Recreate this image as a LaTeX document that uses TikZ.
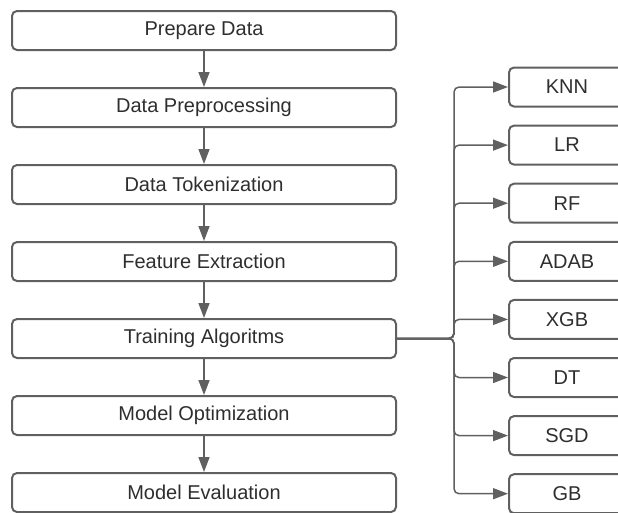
\documentclass[tikz,border=0pt]{standalone}
\usepackage{fontspec}
\setmainfont{Liberation Sans}
\usetikzlibrary{arrows.meta}

\definecolor{linegray}{HTML}{606060}
\definecolor{textgray}{HTML}{2E2E2E}

\begin{document}
\begin{tikzpicture}[->,>={Triangle[length=15pt,width=11pt]},x=1pt,y=-1pt,node distance=77pt,
  stepbox/.style={draw=linegray,line width=2pt,rounded corners=5pt,minimum width=384pt,minimum height=39pt,inner sep=0pt,text=textgray,font=\fontsize{20}{23}\selectfont},
  algo/.style={stepbox,minimum width=116pt},
  conn/.style={draw=linegray,line width=1.5pt,rounded corners=5pt}]

\useasboundingbox (0,0) rectangle (618,512);
\clip (0,0) rectangle (618,512);

\node[stepbox](prep) at (204,30.5){Prepare Data};
\node[stepbox](preproc)[below of=prep]{Data Preprocessing};
\node[stepbox](token)[below of=preproc]{Data Tokenization};
\node[stepbox](feat)[below of=token]{Feature Extraction};
\node[stepbox](train)[below of=feat]{Training Algoritms};
\node[stepbox](optim)[below of=train]{Model Optimization};
\node[stepbox](eval)[below of=optim]{Model Evaluation};

\begin{scope}[node distance=58.1pt]
\node[algo](knn) at (567,87){KNN};
\node[algo](lr)[below of=knn]{LR};
\node[algo](rf)[below of=lr]{RF};
\node[algo](adab)[below of=rf]{ADAB};
\node[algo](xgb)[below of=adab]{XGB};
\node[algo](dt)[below of=xgb]{DT};
\node[algo](sgd)[below of=dt]{SGD};
\node[algo](gb)[below of=sgd]{GB};
\end{scope}

\coordinate (split) at ([xshift=57pt]train.east);

\foreach \a/\b in {prep/preproc,preproc/token,token/feat,feat/train,train/optim,optim/eval}
  \path[conn](\a)--(\b);

\foreach \n in {knn,lr,rf,adab,xgb,dt,sgd,gb}
  \path[conn](train.east)--(split)|-(\n.west);

\end{tikzpicture}
\end{document}
